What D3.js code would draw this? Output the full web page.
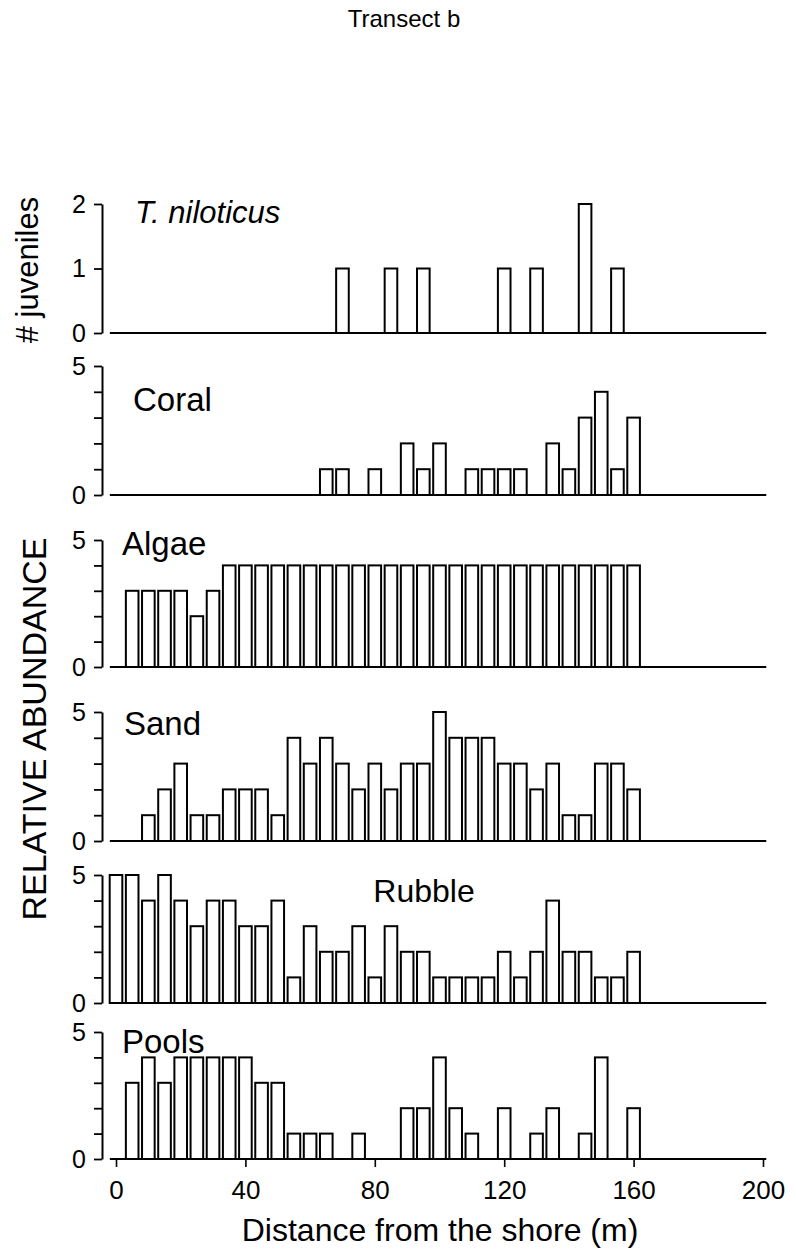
<!DOCTYPE html>
<html>
<head>
<meta charset="utf-8">
<script src="https://cdn.jsdelivr.net/npm/d3@7"></script>
<style>
  body { margin: 0; background: #fff; }
  svg { display: block; }
  text { font-family: Arial, "Liberation Sans", Helvetica, sans-serif; fill: #000; }
</style>
</head>
<body>
<svg id="chart" width="796" height="1255"></svg>
<script>
// Sampling stations along the transect (m from shore)
const distances = [0, 5, 10, 15, 20, 25, 30, 35, 40, 45, 50, 55, 60, 65, 70, 75, 80,
                   85, 90, 95, 100, 105, 110, 115, 120, 125, 130, 135, 140, 145, 150, 155, 160];

// Number of juvenile trochus found at each station
const juveniles = [0, 0, 0, 0, 0, 0, 0, 0, 0, 0, 0, 0, 0, 0, 1, 0, 0,
                   1, 0, 1, 0, 0, 0, 0, 1, 0, 1, 0, 0, 2, 0, 1, 0];

// Relative abundance (0-5) of each substrate
const coral  = [0, 0, 0, 0, 0, 0, 0, 0, 0, 0, 0, 0, 0, 1, 1, 0, 1,
                0, 2, 1, 2, 0, 1, 1, 1, 1, 0, 2, 1, 3, 4, 1, 3];
const algae  = [0, 3, 3, 3, 3, 2, 3, 4, 4, 4, 4, 4, 4, 4, 4, 4, 4,
                4, 4, 4, 4, 4, 4, 4, 4, 4, 4, 4, 4, 4, 4, 4, 4];
const sand   = [0, 0, 1, 2, 3, 1, 1, 2, 2, 2, 1, 4, 3, 4, 3, 2, 3,
                2, 3, 3, 5, 4, 4, 4, 3, 3, 2, 3, 1, 1, 3, 3, 2];
const rubble = [5, 5, 4, 5, 4, 3, 4, 4, 3, 3, 4, 1, 3, 2, 2, 3, 1,
                3, 2, 2, 1, 1, 1, 1, 2, 1, 2, 4, 2, 2, 1, 1, 2];
const pools  = [0, 3, 4, 3, 4, 4, 4, 4, 4, 3, 3, 1, 1, 1, 0, 1, 0,
                0, 2, 2, 4, 2, 1, 0, 2, 0, 1, 2, 0, 1, 4, 0, 2];

const panelNames = ["T. niloticus", "Coral", "Algae", "Sand", "Rubble", "Pools"];
const panelSeries = [juveniles, coral, algae, sand, rubble, pools];
const panelMax = [2, 5, 5, 5, 5, 5];
const juvenileTicks = [0, 1, 2];
const abundanceTicks = [0, 1, 2, 3, 4, 5];
const abundanceTickLabels = ["0", "", "", "", "", "5"];
const xTickValues = [0, 40, 80, 120, 160, 200];

// Panel geometry: baseline / top pixel rows and the name placement
const layout = [
  { base: 333,  top: 204,  nameX: 135, nameY: 223,  anchor: "start",  italic: true,  size: 31 },
  { base: 495,  top: 366,  nameX: 133, nameY: 411,  anchor: "start",  italic: false, size: 33 },
  { base: 667,  top: 540,  nameX: 122, nameY: 555,  anchor: "start",  italic: false, size: 33 },
  { base: 841,  top: 712,  nameX: 124, nameY: 735,  anchor: "start",  italic: false, size: 33 },
  { base: 1003, top: 875,  nameX: 424, nameY: 902,  anchor: "middle", italic: false, size: 32 },
  { base: 1159, top: 1032, nameX: 122, nameY: 1053, anchor: "start",  italic: false, size: 33 }
];

const svg = d3.select("#chart");
const axisX = 102;       // vertical axis column
const barWidthM = 3.9;   // bar width in metres

const x = d3.scaleLinear().domain([0, 200]).range([116, 763]);

// Title
svg.append("text")
  .attr("x", 404).attr("y", 27)
  .attr("text-anchor", "middle")
  .style("font-size", "24px")
  .text("Transect b");

panelSeries.forEach((values, p) => {
  const L = layout[p];
  const y = d3.scaleLinear().domain([0, panelMax[p]]).range([L.base, L.top]);
  const g = svg.append("g");

  // bars
  const rows = distances.map((d, i) => ({ d, v: values[i] })).filter(r => r.v > 0);
  g.selectAll("rect").data(rows).join("rect")
    .attr("x", r => x(r.d - barWidthM / 2))
    .attr("width", x(barWidthM) - x(0))
    .attr("y", r => y(r.v))
    .attr("height", r => y(0) - y(r.v))
    .attr("fill", "#fff")
    .attr("stroke", "#000")
    .attr("stroke-width", 2);

  // baseline
  g.append("line")
    .attr("x1", x(-1.9)).attr("x2", x(201))
    .attr("y1", y(0)).attr("y2", y(0))
    .attr("stroke", "#000").attr("stroke-width", 2);

  // y axis
  const isJuv = p === 0;
  const yAxis = d3.axisLeft(y)
    .tickValues(isJuv ? juvenileTicks : abundanceTicks)
    .tickFormat((v, i) => isJuv ? String(v) : abundanceTickLabels[i])
    .tickSize(8).tickSizeOuter(0).tickPadding(8);
  const ya = svg.append("g").attr("transform", `translate(${axisX},0)`).call(yAxis);
  ya.select(".domain").attr("stroke", "#000").attr("stroke-width", 2);
  ya.selectAll(".tick line").attr("stroke", "#000").attr("stroke-width", 1.8);
  ya.selectAll(".tick text").style("font-size", "25px")
    .style("font-family", "Arial, 'Liberation Sans', sans-serif").attr("fill", "#000");

  // panel name
  svg.append("text")
    .attr("x", L.nameX).attr("y", L.nameY)
    .attr("text-anchor", L.anchor)
    .style("font-size", L.size + "px")
    .style("font-style", L.italic ? "italic" : "normal")
    .text(panelNames[p]);

  // distance axis under the last panel
  if (p === panelSeries.length - 1) {
    const xAxis = d3.axisBottom(x).tickValues(xTickValues)
      .tickSize(8).tickSizeOuter(0).tickPadding(14);
    const xa = svg.append("g").attr("transform", `translate(0,${L.base})`).call(xAxis);
    xa.select(".domain").remove();
    xa.selectAll(".tick line").attr("stroke", "#000").attr("stroke-width", 1.6);
    xa.selectAll(".tick text").style("font-size", "26px")
      .style("font-family", "Arial, 'Liberation Sans', sans-serif").attr("fill", "#000");
  }
});

// Axis titles
svg.append("text")
  .attr("transform", "translate(38,270) rotate(-90)")
  .attr("text-anchor", "middle")
  .style("font-size", "31px")
  .text("# juveniles");

svg.append("text")
  .attr("transform", "translate(46,729) rotate(-90)")
  .attr("text-anchor", "middle")
  .style("font-size", "34px")
  .text("RELATIVE ABUNDANCE");

svg.append("text")
  .attr("x", 440).attr("y", 1241)
  .attr("text-anchor", "middle")
  .style("font-size", "32px")
  .text("Distance from the shore (m)");
</script>
</body>
</html>
